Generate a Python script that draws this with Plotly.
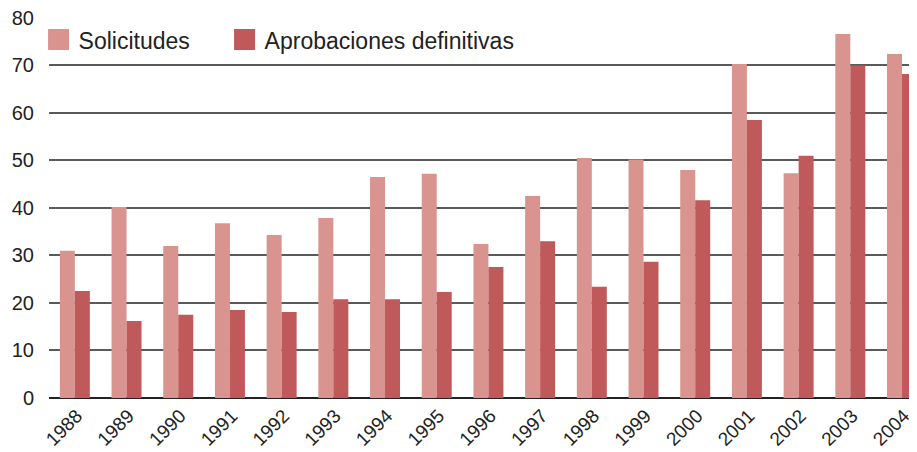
import plotly.graph_objects as go

years = ["1988", "1989", "1990", "1991", "1992", "1993", "1994", "1995", "1996",
         "1997", "1998", "1999", "2000", "2001", "2002", "2003", "2004"]
solicitudes = [31.0, 40.2, 32.0, 36.8, 34.3, 37.9, 46.5, 47.2, 32.4,
               42.5, 50.5, 50.2, 48.0, 70.3, 47.3, 76.6, 72.4]
aprobaciones = [22.5, 16.2, 17.5, 18.5, 18.1, 20.8, 20.8, 22.3, 27.6,
                33.0, 23.4, 28.7, 41.6, 58.5, 51.0, 70.0, 68.2]
y_ticks = [0, 10, 20, 30, 40, 50, 60, 70, 80]

c_sol = "#D9948F"
c_apr = "#C0595A"
font_family = "Liberation Sans, Arial, sans-serif"

fig = go.Figure()
fig.add_trace(go.Bar(x=years, y=solicitudes, name="Solicitudes",
                     marker=dict(color=c_sol, line=dict(width=0)), showlegend=False))
fig.add_trace(go.Bar(x=years, y=aprobaciones, name="Aprobaciones definitivas",
                     marker=dict(color=c_apr, line=dict(width=0)), showlegend=False))
# legend entries with large square symbols
fig.add_trace(go.Scatter(x=[None], y=[None], mode="markers", name="Solicitudes",
                         legend="legend",
                         marker=dict(symbol="square", size=16, color=c_sol,
                                     line=dict(color=c_sol, width=5))))
fig.add_trace(go.Scatter(x=[None], y=[None], mode="markers", name="Aprobaciones definitivas",
                         legend="legend2",
                         marker=dict(symbol="square", size=16, color=c_apr,
                                     line=dict(color=c_apr, width=5))))

legend_common = dict(orientation="h", yanchor="top", xanchor="left",
                     bgcolor="rgba(255,255,255,0)",
                     font=dict(family=font_family, size=23, color="#222222"),
                     itemsizing="trace", itemwidth=30)

fig.update_layout(
    width=909, height=444,
    margin=dict(l=41, r=0, t=9, b=54),
    paper_bgcolor="white", plot_bgcolor="white",
    barmode="group", bargap=0.42, bargroupgap=0,
    font=dict(family=font_family, size=19, color="#222222"),
    showlegend=True,
    legend=dict(x=-0.012, y=0.997, **legend_common),
    legend2=dict(x=0.2023, y=0.997, **legend_common),
    xaxis=dict(type="category", range=[-0.5, 16.29], showgrid=False,
               tickangle=-45, ticks="", showline=False, zeroline=False,
               automargin=False, ticklabelshift=2, ticklabelstandoff=2,
               ticklabeloverflow="allow",
               tickfont=dict(size=19, color="#222222")),
    yaxis=dict(range=[0, 80.2], tickvals=y_ticks, showgrid=True,
               gridcolor="#5a5a5a", gridwidth=1.5, zeroline=True,
               zerolinecolor="#222222", zerolinewidth=1.5, ticks="",
               ticklabelstandoff=14, showline=False, automargin=False,
               ticklabeloverflow="allow",
               tickfont=dict(size=20, color="#222222")),
)

fig.write_html("out.html")
